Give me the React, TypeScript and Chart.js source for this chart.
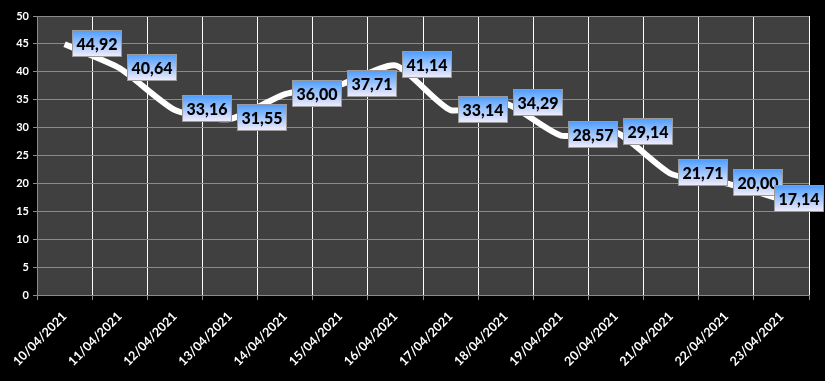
import React, { useEffect, useRef } from "react";
import { Chart, registerables } from "chart.js";

Chart.register(...registerables);

const categories = [
  "10/04/2021", "11/04/2021", "12/04/2021", "13/04/2021", "14/04/2021",
  "15/04/2021", "16/04/2021", "17/04/2021", "18/04/2021", "19/04/2021",
  "20/04/2021", "21/04/2021", "22/04/2021", "23/04/2021",
];
const values = [44.92, 40.64, 33.16, 31.55, 36.0, 37.71, 41.14, 33.14, 34.29, 28.57, 29.14, 21.71, 20.0, 17.14];
const yTicks = [0, 5, 10, 15, 20, 25, 30, 35, 40, 45, 50];

const FONT = "Lato, 'Open Sans', 'Liberation Sans', sans-serif";

const labelPlugin = {
  id: "boxLabels",
  afterDatasetsDraw(chart: any) {
    const ctx = chart.ctx as CanvasRenderingContext2D;
    const meta = chart.getDatasetMeta(0);
    const W = chart.width;
    ctx.save();
    ctx.font = `900 16px ${FONT}`;
    meta.data.forEach((pt: any, i: number) => {
      const txt = values[i].toFixed(2).replace(".", ",");
      const tw = ctx.measureText(txt).width;
      const w = Math.round(tw + 9);
      const h = 27;
      let x = Math.round(pt.x + 7);
      if (x + w > W - 1) x = W - 1 - w;
      const y = Math.round(pt.y - h / 2 - 1);
      const g = ctx.createLinearGradient(0, y, 0, y + h);
      g.addColorStop(0, "#4a9bff");
      g.addColorStop(0.4, "#8cbcfd");
      g.addColorStop(1, "#f6eefb");
      ctx.fillStyle = g;
      ctx.fillRect(x, y, w, h);
      ctx.strokeStyle = "#9a9a9a";
      ctx.lineWidth = 1;
      ctx.strokeRect(x + 0.5, y + 0.5, w - 1, h - 1);
      ctx.fillStyle = "#000";
      ctx.textBaseline = "middle";
      ctx.textAlign = "center";
      ctx.fillText(txt, x + w / 2, y + h / 2 + 1);
    });
    ctx.restore();
  },
};

const bgPlugin = {
  id: "bg",
  beforeDraw(chart: any) {
    const { ctx, chartArea } = chart;
    ctx.save();
    ctx.fillStyle = "#000";
    ctx.fillRect(0, 0, chart.width, chart.height);
    ctx.fillStyle = "#404040";
    ctx.fillRect(chartArea.left, chartArea.top, chartArea.right - chartArea.left, chartArea.bottom - chartArea.top);
    ctx.restore();
  },
};

export default function App() {
  const ref = useRef<HTMLCanvasElement>(null);
  useEffect(() => {
    document.body.style.margin = "0";
    document.body.style.background = "#000";
    const chart = new Chart(ref.current!, {
      type: "line",
      data: {
        labels: categories,
        datasets: [
          {
            data: values,
            borderColor: "#ffffff",
            borderWidth: 6,
            tension: 0.2,
            pointRadius: 0,
            fill: false,
            borderCapStyle: "butt",
            borderJoinStyle: "round",
          },
        ],
      },
      options: {
        animation: false,
        responsive: false,
        devicePixelRatio: 1,
        layout: { padding: { top: 16, right: 16, left: 0, bottom: 0 } },
        plugins: { legend: { display: false }, tooltip: { enabled: false } },
        scales: {
          x: {
            type: "category",
            offset: true,
            grid: { offset: true, color: "#ffffff", lineWidth: 1, tickColor: "#8a8a8a", tickLength: 5 },
            border: { color: "#8a8a8a" },
            ticks: {
              color: "#ffffff",
              font: { family: FONT, weight: "bold", size: 12.5 },
              maxRotation: 45,
              minRotation: 45,
              autoSkip: false,
              padding: 9,
            },
            afterFit(scale: any) {
              scale.height = 86;
            },
          },
          y: {
            min: 0,
            max: 50,
            afterBuildTicks(scale: any) {
              scale.ticks = yTicks.map((v) => ({ value: v }));
            },
            grid: { color: "#8a8a8a", lineWidth: 1, tickColor: "#8a8a8a", tickLength: 4 },
            border: { color: "#8a8a8a" },
            ticks: {
              color: "#ffffff",
              font: { family: FONT, weight: "bold", size: 11 },
              padding: 4,
            },
            afterFit(scale: any) {
              scale.width = 37;
            },
          },
        },
      },
      plugins: [bgPlugin, labelPlugin],
    } as any);
    return () => chart.destroy();
  }, []);
  return <canvas ref={ref} width={825} height={381} style={{ display: "block" }} />;
}
